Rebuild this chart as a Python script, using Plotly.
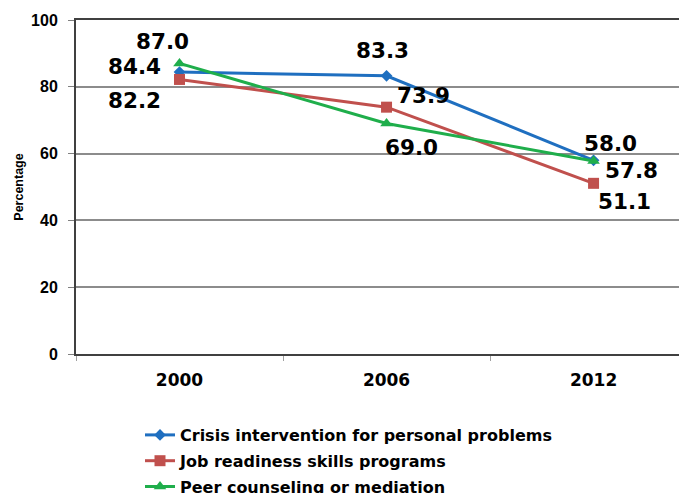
import plotly.graph_objects as go

years = ["2000", "2006", "2012"]
series_names = [
    "Crisis intervention for personal problems",
    "Job readiness skills programs",
    "Peer counseling or mediation",
]
crisis = [84.4, 83.3, 58.0]
job = [82.2, 73.9, 51.1]
peer = [87.0, 69.0, 57.8]
y_ticks = [0, 20, 40, 60, 80, 100]

colors = ["#1F6FC0", "#C0504D", "#1FAE4B"]
symbols = ["diamond", "square", "triangle-up"]
msizes = [9, 11, 11]
all_values = [crisis, job, peer]

# label offsets (px) for each series, per year
label_offsets = [
    [(-45, 6), (-4, 25), (17, 17)],
    [(-45, -21), (37, 12), (31, -18)],
    [(-17, 22), (25, -24), (38, -10)],
]

fig = go.Figure()
for i, (name, vals) in enumerate(zip(series_names, all_values)):
    fig.add_trace(go.Scatter(
        x=years, y=vals, name=name, mode="lines+markers",
        line=dict(color=colors[i], width=3),
        marker=dict(symbol=symbols[i], size=msizes[i], color=colors[i]),
        legendgroup=f"g{i}",
    ))

annotations = []
for i, vals in enumerate(all_values):
    for j, v in enumerate(vals):
        dx, dy = label_offsets[i][j]
        annotations.append(dict(
            x=j, y=v, xref="x", yref="y", text=f"<b>{v:.1f}</b>",
            showarrow=False, xshift=dx, yshift=dy,
            font=dict(family="DejaVu Sans", size=21.5, color="black"),
        ))

fig.update_layout(
    width=687, height=493,
    margin=dict(l=68, r=0, t=12, b=147, autoexpand=False),
    paper_bgcolor="white", plot_bgcolor="white",
    showlegend=True,
    legend=dict(
        x=(132 - 68) / 619, y=-64 / 334, xanchor="left", yanchor="top",
        font=dict(family="DejaVu Sans", size=16, color="black", weight="bold"),
        tracegroupgap=2, bgcolor="rgba(0,0,0,0)",
        itemwidth=30,
    ),
    annotations=annotations,
)
fig.update_xaxes(
    type="category", range=[-0.5, 2.49],
    showline=True, linecolor="#404040", linewidth=2, mirror=True,
    ticks="outside", tickson="boundaries", ticklen=5, tickcolor="#A0A0A0",
    showgrid=False, tickangle=0,
    tickfont=dict(family="DejaVu Sans", size=17, color="black", weight="bold"),
    ticklabelstandoff=10,
)
fig.update_yaxes(
    range=[0, 100], tickvals=y_ticks,
    showline=True, linecolor="#404040", linewidth=2,
    ticks="outside", ticklen=6, tickcolor="#808080",
    showgrid=True, gridcolor="#8C8C8C", gridwidth=1.5,
    zeroline=False, ticklabelstandoff=7,
    tickfont=dict(family="Liberation Sans", size=16, color="black", weight="bold"),
    title=dict(text="Percentage", standoff=5,
               font=dict(family="Liberation Sans", size=12.5, color="black", weight="bold")),
)

fig.write_html("out.html")
